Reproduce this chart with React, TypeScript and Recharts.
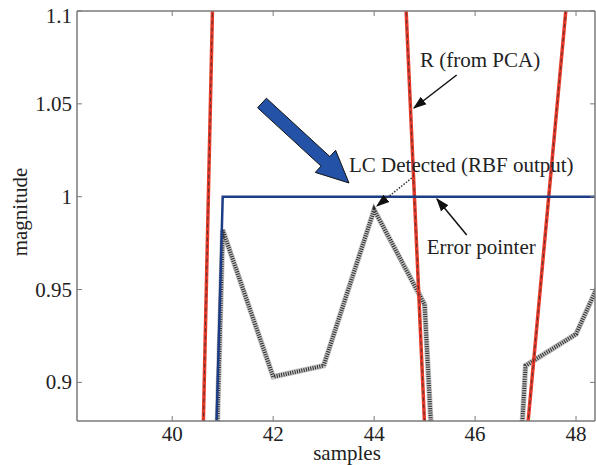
import { LineChart, Line, XAxis, YAxis } from "recharts";

// sample index on the x axis
const samples = [38, 39, 40, 41, 42, 43, 44, 45, 46, 47, 48, 49];
// R (from PCA)
const rPca = [0.3, 0.2, 0.12, 1.35, 1.6, 1.6, 1.487, 0.877, 0.45, 0.864, 1.16, 1.45];
// LC detected (RBF output), step
const lcDetected = [0, 0, 0, 1, 1, 1, 1, 1, 1, 1, 1, 1];
// raw RBF output (dotted)
const rbfOutput = [0, 0, 0, 0.982, 0.903, 0.909, 0.993, 0.942, 0.43, 0.909, 0.926, 0.986];

const xTicks = [40, 42, 44, 46, 48];
const yTicks = [0.9, 0.95, 1, 1.05, 1.1];

const data = samples.map((s, i) => ({
  s,
  r: rPca[i],
  lc: lcDetected[i],
  rbf: rbfOutput[i],
}));

const FONT = '"Liberation Serif", "DejaVu Serif", serif';
const AXIS = "#7a7a7a";

const XTick = (p: any) => (
  <text x={p.x} y={p.y - 1} textAnchor="middle" fontFamily={FONT} fontSize={21} fill="#222">
    {p.payload.value}
  </text>
);

const YTick = (p: any) => (
  <text
    x={p.x}
    y={p.y + (p.payload.value === 1.1 ? 12 : 7)}
    textAnchor="end"
    fontFamily={FONT}
    fontSize={21}
    fill="#222"
  >
    {String(p.payload.value)}
  </text>
);

function blueArrow(tx: number, ty: number, px: number, py: number) {
  const dx = px - tx;
  const dy = py - ty;
  const len = Math.hypot(dx, dy);
  const ux = dx / len;
  const uy = dy / len;
  const nx = -uy;
  const ny = ux;
  const sw = 6.5;
  const hw = 15;
  const hl = 32;
  const bx = px - ux * hl;
  const by = py - uy * hl;
  const pts = [
    [tx + nx * sw, ty + ny * sw],
    [bx + nx * sw, by + ny * sw],
    [bx + nx * hw, by + ny * hw],
    [px, py],
    [bx - nx * hw, by - ny * hw],
    [bx - nx * sw, by - ny * sw],
    [tx - nx * sw, ty - ny * sw],
  ];
  return pts.map((q) => q.join(",")).join(" ");
}

export default function App() {
  return (
    <div style={{ position: "relative", width: 596, height: 465, background: "#fff" }}>
      <style>{`body{margin:0}`}</style>
      <LineChart
        width={596}
        height={465}
        data={data}
        margin={{ top: 10, right: 0, bottom: 0, left: 0 }}
      >
        <XAxis
          dataKey="s"
          type="number"
          domain={[38.113, 48.376]}
          ticks={xTicks}
          allowDataOverflow
          height={44}
          tickSize={-5}
          tickMargin={26}
          tick={XTick}
          axisLine={{ stroke: AXIS, strokeWidth: 1.5 }}
          tickLine={{ stroke: AXIS }}
        />
        <XAxis
          xAxisId="top"
          orientation="top"
          dataKey="s"
          type="number"
          domain={[38.113, 48.376]}
          ticks={xTicks}
          allowDataOverflow
          height={1}
          tickSize={-5}
          tick={() => <g />}
          axisLine={{ stroke: AXIS, strokeWidth: 1.5 }}
          tickLine={{ stroke: AXIS }}
        />
        <YAxis
          type="number"
          domain={[0.8792, 1.1]}
          ticks={yTicks}
          allowDataOverflow
          width={77}
          tickSize={-5}
          tickMargin={10}
          tick={YTick}
          axisLine={{ stroke: AXIS, strokeWidth: 1.5 }}
          tickLine={{ stroke: AXIS }}
        />
        <YAxis
          yAxisId="right"
          orientation="right"
          type="number"
          domain={[0.8792, 1.1]}
          ticks={yTicks}
          allowDataOverflow
          width={1}
          tickSize={-5}
          tick={() => <g />}
          axisLine={{ stroke: AXIS, strokeWidth: 1.5 }}
          tickLine={{ stroke: AXIS }}
        />
        <Line dataKey="rbf" type="linear" stroke="#c4c4c4" strokeWidth={5.5} dot={false} isAnimationActive={false} />
        <Line
          dataKey="rbf"
          type="linear"
          stroke="#2b2b2b"
          strokeWidth={4}
          strokeDasharray="1 1.3"
          dot={false}
          isAnimationActive={false}
        />
        <Line dataKey="r" type="linear" stroke="#e63b2b" strokeWidth={3.5} dot={false} isAnimationActive={false} />
        <Line
          dataKey="r"
          type="linear"
          stroke="#3a2a2a"
          strokeWidth={0.8}
          strokeDasharray="4 3"
          dot={false}
          isAnimationActive={false}
        />
        <Line dataKey="lc" type="linear" stroke="#1d3c86" strokeWidth={2.5} dot={false} isAnimationActive={false} />
      </LineChart>
      <svg
        width={596}
        height={465}
        style={{ position: "absolute", left: 0, top: 0, pointerEvents: "none" }}
        fontFamily={FONT}
        fontSize={21}
        fill="#222"
      >
        <defs>
          <marker id="ah" viewBox="0 0 10 10" refX="9" refY="5" markerWidth="9" markerHeight="9" orient="auto">
            <path d="M0,1.5 L10,5 L0,8.5 z" fill="#111" />
          </marker>
        </defs>
        <polygon points={blueArrow(262, 103, 349, 183)} fill="#2352a6" stroke="#111" strokeWidth={1} />
        <text x={420} y={66.5}>R (from PCA)</text>
        <line x1={456.7} y1={75} x2={414} y2={108} stroke="#111" strokeWidth={1.5} markerEnd="url(#ah)" />
        <text x={349} y={172.3}>LC Detected (RBF output)</text>
        <line
          x1={411.7}
          y1={178}
          x2={377}
          y2={206}
          stroke="#333"
          strokeWidth={1.5}
          strokeDasharray="1.5 1.5"
          markerEnd="url(#ah)"
        />
        <text x={426.7} y={254}>Error pointer</text>
        <line x1={466.7} y1={235} x2={437} y2={199} stroke="#111" strokeWidth={1.5} markerEnd="url(#ah)" />
        <text x={347} y={460} textAnchor="middle">samples</text>
        <text x={27} y={212} textAnchor="middle" transform="rotate(-90 27 212)">magnitude</text>
      </svg>
    </div>
  );
}
